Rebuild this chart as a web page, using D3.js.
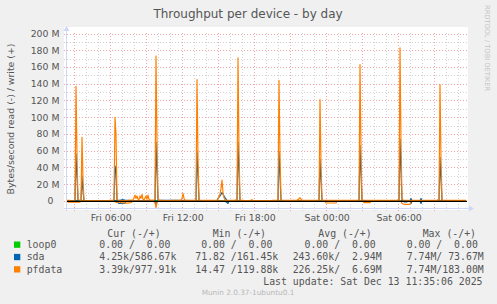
<!DOCTYPE html>
<html>
<head>
<meta charset="utf-8">
<script src="https://cdn.jsdelivr.net/npm/d3@7"></script>
<style>
  body { margin: 0; background: #f0f0f0; }
  text { font-family: "DejaVu Sans", sans-serif; }
  .mono { font-family: "DejaVu Sans Mono", monospace; white-space: pre; }
</style>
</head>
<body>
<div id="chart"></div>
<script>
// time base: one sample every 5 minutes, left edge of the graph
var startTime = new Date(2025, 11, 12, 2, 24);
var endTime = new Date(2025, 11, 13, 11, 44);
var stepMinutes = 5;

// [sample index, MB/s]  (write is drawn up, read is drawn down)
var pfdataWrite = [[0,0.6],[3,0.6],[4,0],[6,0],[7,0.6],[8,1],[9,137],[10,55],[11,1.5],[13,0.8],[14,1],[15,76],[16,25],[17,1],[18,0.6],[20,0],[24,0],[27,0.5],[30,0],[40,0],[42,0.6],[46,0.8],[47,1.5],[48,100],[49,80],[50,2],[51,1],[53,0.6],[56,0.5],[60,0.5],[62,1],[66,1],[67,4],[68,7],[69,3],[70,6],[71,2],[72,1.5],[73,6],[74,3],[75,8],[76,2],[77,1],[79,6],[80,2],[81,7],[82,2],[83,1],[85,1],[87,1],[88,2],[89,173],[90,70],[91,3],[92,1],[95,0.8],[98,0.5],[100,0.5],[105,0.6],[110,0.8],[114,1],[115,3],[116,9],[117,3],[118,1],[120,0.6],[126,0.6],[128,0.8],[129,2],[130,145],[131,50],[132,2],[133,1],[135,0.8],[140,0.6],[148,0.6],[150,1],[151,2],[153,8],[154,15],[155,25],[156,10],[157,4],[158,1],[160,0.6],[165,0.6],[168,0.8],[170,2],[171,171],[172,60],[173,2],[174,1],[178,0.5],[183,0.5],[185,1.5],[186,0.5],[195,0.5],[205,0.6],[210,1],[211,2],[212,144],[213,55],[214,2],[215,1],[222,0.6],[230,1],[232,2.5],[233,4],[234,2],[235,1],[245,0.6],[251,1],[252,2],[253,121],[254,45],[255,2],[256,1],[262,0.8],[270,0.8],[280,0.6],[289,0.6],[291,1],[292,2],[293,163],[294,60],[295,2],[296,1],[305,0.6],[320,0.6],[330,0.8],[332,2],[333,183],[334,70],[335,3],[336,1],[345,0.6],[360,0.6],[370,0.8],[372,2],[373,139],[374,50],[375,2],[376,1],[390,0.6],[399,0.6]];
var pfdataRead = [[0,0],[1,1.5],[13,1.5],[14,0],[46,0],[48,1],[50,2],[52,1],[54,2],[60,2.5],[64,2],[66,0],[86,0],[88,2],[89,8],[90,2],[91,0],[258,0],[259,2.4],[269,2.4],[270,0],[296,0],[297,2],[303,2],[304,0],[334,0],[335,3],[337,4],[343,4],[344,0],[399,0]];
var sdaWrite = [[0,0],[8,0.3],[9,56],[10,30],[11,0.5],[14,0.3],[15,30],[16,12],[17,0.3],[47,0.3],[48,42],[49,35],[50,1],[52,0.5],[55,1.5],[58,1],[62,0.5],[88,0.5],[89,70],[90,35],[91,1],[129,0.5],[130,60],[131,30],[132,0.5],[150,0.5],[151,3],[153,6],[155,10],[156,8],[158,4],[160,0.5],[170,0.5],[171,70],[172,35],[173,0.5],[211,0.5],[212,59],[213,30],[214,0.5],[252,0.5],[253,50],[254,25],[255,0.5],[292,0.5],[293,66],[294,33],[295,0.5],[332,0.5],[333,74],[334,37],[335,0.5],[343,0],[344,3],[345,0],[353,0],[354,3],[355,0],[372,0.5],[373,52],[374,26],[375,0.5],[399,0]];
var sdaRead = [[0,0],[50,0],[51,2],[52,3],[56,3],[58,2.5],[59,0],[86,0],[88,1],[89,5],[90,1],[91,0],[158,0],[160,2],[161,3],[162,0],[336,0],[337,1],[340,1],[341,0],[343,0],[344,3],[345,0],[353,0],[354,3],[355,0],[399,0]];
var loop0Write = [[0,0],[399,0]];
var loop0Read = [[0,0],[399,0]];

var yTicks = [0, 20, 40, 60, 80, 100, 120, 140, 160, 180, 200];
var yMinor = [10, 30, 50, 70, 90, 110, 130, 150, 170, 190];

var legendNames = ["loop0", "sda", "pfdata"];
var legendColors = ["#00CC00", "#0066B3", "#FF8000"];
var legendHeads = ["Cur (-/+)", "Min (-/+)", "Avg (-/+)", "Max (-/+)"];
var legendCur = ["0.00 /  0.00", "4.25k/586.67k", "3.39k/977.91k"];
var legendMin = ["0.00 /  0.00", "71.82 /161.45k", "14.47 /119.88k"];
var legendAvg = ["0.00 /  0.00", "243.60k/  2.94M", "226.25k/  6.69M"];
var legendMax = ["0.00 /  0.00", "7.74M/ 73.67M", "7.74M/183.00M"];

var W = 497, H = 304;
var svg = d3.select("#chart").append("svg")
    .attr("width", W).attr("height", H)
    .style("display", "block");

svg.append("rect").attr("width", W).attr("height", H).attr("fill", "#f0f0f0");

var x = d3.scaleTime().domain([startTime, endTime]).range([67, 467]);
var y = d3.scaleLinear().domain([-8.4, 200]).range([208, 33.5]);

// white canvas
svg.append("rect").attr("x", 64).attr("y", 27).attr("width", 404).attr("height", 183).attr("fill", "#fff");

var grid = svg.append("g");

// minor horizontal
grid.selectAll("line.hmin").data(yMinor).enter().append("line")
    .attr("x1", 64).attr("x2", 467)
    .attr("y1", d => Math.round(y(d)) + 0.5).attr("y2", d => Math.round(y(d)) + 0.5)
    .attr("stroke", "#d2d2d2").attr("stroke-dasharray", "1,2");

// hourly vertical
var hours = d3.timeHour.every(1).range(startTime, endTime);
grid.selectAll("line.vmin").data(hours.filter(d => d.getHours() % 3 != 0)).enter().append("line")
    .attr("x1", d => Math.round(x(d)) + 0.5).attr("x2", d => Math.round(x(d)) + 0.5)
    .attr("y1", 33).attr("y2", 211)
    .attr("stroke", "#d2d2d2").attr("stroke-dasharray", "1,2");

// major horizontal
grid.selectAll("line.hmaj").data(yTicks).enter().append("line")
    .attr("x1", 64).attr("x2", 467)
    .attr("y1", d => Math.round(y(d)) + 0.5).attr("y2", d => Math.round(y(d)) + 0.5)
    .attr("stroke", "#f4a4a4").attr("stroke-dasharray", "1,2");

grid.selectAll("line.vmaj").data(hours.filter(d => d.getHours() % 3 == 0)).enter().append("line")
    .attr("x1", d => Math.round(x(d)) + 0.5).attr("x2", d => Math.round(x(d)) + 0.5)
    .attr("y1", 33).attr("y2", 211)
    .attr("stroke", "#f4a4a4").attr("stroke-dasharray", "1,2");

// y tick labels
svg.selectAll("text.ytick").data(yTicks).enter().append("text")
    .attr("x", d => d == 0 ? 53.5 : 59.5)
    .attr("y", d => y(d) + 3.5)
    .attr("text-anchor", "end")
    .attr("font-size", "9.33px")
    .attr("fill", "#555")
    .text(d => d == 0 ? "0" : d + " M");

// x tick labels
var labelTimes = hours.filter(d => d.getHours() % 6 == 0);
svg.selectAll("text.xtick").data(labelTimes).enter().append("text")
    .attr("x", d => x(d) + 1)
    .attr("y", 221)
    .attr("text-anchor", "middle")
    .attr("font-size", "9.33px")
    .attr("fill", "#555")
    .text(d3.timeFormat("%a %H:%M"));

// data lines
var toTime = i => new Date(startTime.getTime() + i * stepMinutes * 60000);
var lineUp = d3.line().x(d => x(toTime(d[0]))).y(d => y(d[1]));
var lineDown = d3.line().x(d => x(toTime(d[0]))).y(d => y(-d[1]));

var plot = svg.append("g");
var series = [
    [loop0Read, lineDown, legendColors[0]], [loop0Write, lineUp, legendColors[0]],
    [sdaRead, lineDown, legendColors[1]], [sdaWrite, lineUp, legendColors[1]],
    [pfdataRead, lineDown, legendColors[2]], [pfdataWrite, lineUp, legendColors[2]]
];
series.forEach(function(s) {
    plot.append("path")
        .attr("d", s[1](s[0]))
        .attr("fill", "none")
        .attr("stroke", s[2])
        .attr("stroke-width", 1.2)
        .attr("stroke-linejoin", "round");
});

// zero line
svg.append("line")
    .attr("x1", 67).attr("x2", 467)
    .attr("y1", y(0) + 0.5).attr("y2", y(0) + 0.5)
    .attr("stroke", "#000").attr("stroke-width", 1.2);

// axes
var axisColor = "#CFD6F8";
svg.append("line").attr("x1", 64).attr("x2", 470).attr("y1", 208.5).attr("y2", 208.5).attr("stroke", axisColor);
svg.append("line").attr("x1", 66.5).attr("x2", 66.5).attr("y1", 211).attr("y2", 30).attr("stroke", axisColor);
svg.append("path").attr("d", "M469,205.5L474,208.5L469,211.5Z").attr("fill", axisColor);
svg.append("path").attr("d", "M63.5,31L66.5,26L69.5,31Z").attr("fill", axisColor);

// title and labels
svg.append("text")
    .attr("x", 248).attr("y", 18)
    .attr("text-anchor", "middle")
    .attr("font-size", "12px")
    .attr("fill", "#555")
    .text("Throughput per device - by day");

svg.append("text")
    .attr("transform", "translate(13.5,119) rotate(-90)")
    .attr("text-anchor", "middle")
    .attr("font-size", "9.33px")
    .attr("fill", "#555")
    .text("Bytes/second read (-) / write (+)");

svg.append("text")
    .attr("transform", "translate(485,5) rotate(90)")
    .attr("text-anchor", "start")
    .attr("font-size", "6.7px")
    .attr("fill", "#c4c4c4")
    .text("RRDTOOL / TOBI OETIKER");

// legend
var legend = svg.append("g").attr("font-size", "9.85px").attr("fill", "#555");
var headX = [107.3, 212.7, 318.3, 422.7];
legend.selectAll("text.head").data(legendHeads).enter().append("text")
    .attr("class", "mono")
    .attr("x", (d, i) => headX[i]).attr("y", 236.5)
    .text(d => d);

var rowY = [248, 260.4, 272.7];
legend.selectAll("rect.sw").data(legendColors).enter().append("rect")
    .attr("x", 14).attr("y", (d, i) => rowY[i] - 6.5)
    .attr("width", 6.3).attr("height", 6.3)
    .attr("fill", d => d);
legend.selectAll("text.name").data(legendNames).enter().append("text")
    .attr("class", "mono")
    .attr("x", 26.7).attr("y", (d, i) => rowY[i])
    .text(d => d);

var cols = [
    [legendCur, [99.3, 99.3, 99.3]],
    [legendMin, [201.2, 195.3, 195.3]],
    [legendAvg, [304.5, 292.7, 292.7]],
    [legendMax, [406.7, 406.7, 406.7]]
];
cols.forEach(function(c) {
    legend.selectAll(null).data(c[0]).enter().append("text")
        .attr("class", "mono")
        .attr("x", (d, i) => c[1][i]).attr("y", (d, i) => rowY[i])
        .text(d => d);
});

legend.append("text")
    .attr("class", "mono")
    .attr("x", 482.5).attr("y", 284.8)
    .attr("text-anchor", "end")
    .text("Last update: Sat Dec 13 11:35:06 2025");

svg.append("text")
    .attr("x", 248).attr("y", 295)
    .attr("text-anchor", "middle")
    .attr("font-size", "7.3px")
    .attr("fill", "#b8b8b8")
    .text("Munin 2.0.37-1ubuntu0.1");
</script>
</body>
</html>
